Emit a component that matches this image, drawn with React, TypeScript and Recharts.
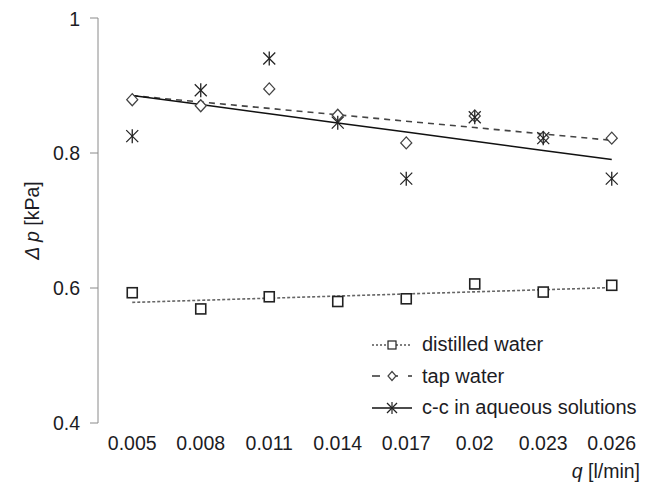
import { ComposedChart, Line, XAxis, YAxis } from "recharts"

const categories = ["0.005", "0.008", "0.011", "0.014", "0.017", "0.02", "0.023", "0.026"]
const distilled = [0.593, 0.569, 0.587, 0.58, 0.584, 0.606, 0.594, 0.604]
const tapWater = [0.879, 0.87, 0.895, 0.856, 0.815, 0.855, 0.823, 0.822]
const ccSolutions = [0.825, 0.893, 0.94, 0.845, 0.762, 0.853, 0.822, 0.762]
const yTicks = [0.4, 0.6, 0.8, 1]

// linear trendline over the category index, like the spreadsheet one
function trend(vals: number[]) {
  const n = vals.length
  const mx = (n - 1) / 2
  const my = vals.reduce((a, b) => a + b, 0) / n
  let sxy = 0
  let sxx = 0
  vals.forEach((v, i) => {
    sxy += (i - mx) * (v - my)
    sxx += (i - mx) * (i - mx)
  })
  const k = sxy / sxx
  return vals.map((_, i) => my + k * (i - mx))
}

const distFit = trend(distilled)
const tapFit = trend(tapWater)
const ccFit = trend(ccSolutions)

const data = categories.map((q, i) => ({
  i,
  q,
  dist: distilled[i],
  tap: tapWater[i],
  cc: ccSolutions[i],
  distFit: distFit[i],
  tapFit: tapFit[i],
  ccFit: ccFit[i],
}))

const boundaryTicks = categories.map((_, i) => i - 0.5).concat(categories.length - 0.5)
const centerTicks = categories.map((_, i) => i)

const FONT = "'Liberation Sans', Arial, sans-serif"
const TEXT = "#1c1c24"
const AXIS = "#8a8a8a"
const FS = 19.5

function Square({ cx, cy, s = 5, w = 1.6 }: any) {
  return <rect x={cx - s} y={cy - s} width={s * 2} height={s * 2} fill="#fff" stroke="#222" strokeWidth={w} />
}

function Diamond({ cx, cy, s = 5.5, w = 1.3 }: any) {
  return (
    <path
      d={`M${cx},${cy - s - 0.5} L${cx + s},${cy} L${cx},${cy + s + 0.5} L${cx - s},${cy} Z`}
      fill="#fff"
      stroke="#444"
      strokeWidth={w}
    />
  )
}

function Star({ cx, cy, s = 6, w = 1.3 }: any) {
  return (
    <g stroke="#222" strokeWidth={w}>
      <line x1={cx} y1={cy - s - 1} x2={cx} y2={cy + s + 1} />
      <line x1={cx - s} y1={cy - s} x2={cx + s} y2={cy + s} />
      <line x1={cx - s} y1={cy + s} x2={cx + s} y2={cy - s} />
    </g>
  )
}

const legendItems = [
  { name: "distilled water", dash: "2 2", color: "#555", Mark: Square, ms: 4 },
  { name: "tap water", dash: "8 10", color: "#333", Mark: Diamond, ms: 4 },
  { name: "c-c in aqueous solutions", dash: undefined, color: "#111", Mark: Star, ms: 5 },
]

function YLabel({ viewBox }: any) {
  const cy = viewBox.y + viewBox.height / 2
  return (
    <text
      x={24}
      y={cy}
      transform={`rotate(-90, 24, ${cy})`}
      textAnchor="middle"
      dominantBaseline="central"
      fill={TEXT}
      fontSize={FS}
      fontFamily={FONT}
    >
      <tspan fontStyle="italic">Δ p</tspan>
      <tspan> [kPa]</tspan>
    </text>
  )
}

export default function App() {
  return (
    <div style={{ position: "relative", width: 648, height: 489 }}>
      <ComposedChart width={648} height={489} data={data} margin={{ top: 10, right: 10, left: 30, bottom: 44 }}>
        <XAxis
          xAxisId="ticks"
          dataKey="i"
          type="number"
          domain={[-0.5, 7.5]}
          ticks={boundaryTicks}
          tickFormatter={() => ""}
          height={0}
          tickSize={8}
          stroke={AXIS}
        />
        <XAxis
          xAxisId="labels"
          dataKey="i"
          type="number"
          domain={[-0.5, 7.5]}
          ticks={centerTicks}
          tickFormatter={(v) => categories[v]}
          axisLine={false}
          tickLine={false}
          tickSize={8}
          tickMargin={5}
          height={30}
          tick={{ fill: TEXT, fontSize: FS, fontFamily: FONT }}
        />
        <YAxis
          type="number"
          domain={[0.4, 1]}
          ticks={yTicks}
          tickFormatter={(v) => String(v)}
          width={60}
          tickSize={8}
          tickMargin={10}
          stroke={AXIS}
          tick={{ fill: TEXT, fontSize: FS, fontFamily: FONT }}
          label={<YLabel />}
        />
        <Line xAxisId="ticks" dataKey="distFit" stroke="#666" strokeWidth={1.6} strokeDasharray="3 2" dot={false} isAnimationActive={false} />
        <Line xAxisId="ticks" dataKey="tapFit" stroke="#444" strokeWidth={1.6} strokeDasharray="6 5" dot={false} isAnimationActive={false} />
        <Line xAxisId="ticks" dataKey="ccFit" stroke="#111" strokeWidth={1.5} dot={false} isAnimationActive={false} />
        <Line
          xAxisId="ticks"
          dataKey="dist"
          stroke="none"
          isAnimationActive={false}
          activeDot={false}
          dot={(p: any) => <Square key={`d${p.index}`} cx={p.cx} cy={p.cy} />}
        />
        <Line
          xAxisId="ticks"
          dataKey="tap"
          stroke="none"
          isAnimationActive={false}
          activeDot={false}
          dot={(p: any) => <Diamond key={`t${p.index}`} cx={p.cx} cy={p.cy} />}
        />
        <Line
          xAxisId="ticks"
          dataKey="cc"
          stroke="none"
          isAnimationActive={false}
          activeDot={false}
          dot={(p: any) => <Star key={`c${p.index}`} cx={p.cx} cy={p.cy} />}
        />
        <text x={632} y={470} textAnchor="end" fill={TEXT} fontSize={FS} fontFamily={FONT}>
          <tspan fontStyle="italic">q</tspan>
          <tspan> [l/min]</tspan>
        </text>
      </ComposedChart>
      <div style={{ position: "absolute", left: 362, top: 321, fontFamily: FONT, fontSize: 20, color: TEXT }}>
        {legendItems.map((it) => (
          <div key={it.name} style={{ display: "flex", alignItems: "center", height: 31.5 }}>
            <svg width={44} height={20} style={{ marginRight: 8 }}>
              <line x1={2} y1={10} x2={42} y2={10} stroke={it.color} strokeWidth={1.5} strokeDasharray={it.dash} />
              <it.Mark cx={22} cy={10} s={it.ms} w={1.2} />
            </svg>
            <span style={{ whiteSpace: "nowrap" }}>{it.name}</span>
          </div>
        ))}
      </div>
    </div>
  )
}
